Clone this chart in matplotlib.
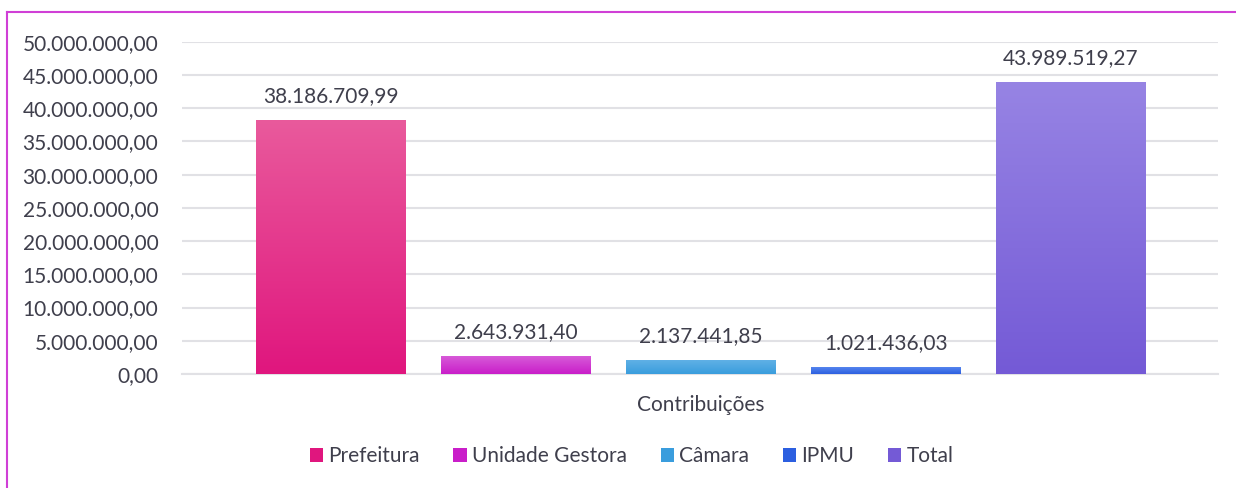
import numpy as np
import matplotlib
matplotlib.use("Agg")
import matplotlib.pyplot as plt
from matplotlib.colors import LinearSegmentedColormap
from matplotlib.patches import Patch
from matplotlib.lines import Line2D

plt.rcParams['font.family'] = ['Lato', 'DejaVu Sans']

series = ["Prefeitura", "Unidade Gestora", "Câmara", "IPMU", "Total"]
values = [38186709.99, 2643931.40, 2137441.85, 1021436.03, 43989519.27]
category = "Contribuições"
yticks = [0, 5e6, 10e6, 15e6, 20e6, 25e6, 30e6, 35e6, 40e6, 45e6, 50e6]

# gradient (top, bottom) colours per series
grad = [("#e95a9c", "#e0167e"),
        ("#d75ad8", "#c91ec9"),
        ("#62b2e6", "#3a9ddd"),
        ("#5585ee", "#2c5fe0"),
        ("#9784e4", "#745ad6")]

TEXT = "#3f3f4c"
GRID = "#e1e1e5"
FS = 15


def br(v):
    s = f"{v:,.2f}"
    return s.replace(",", "X").replace(".", ",").replace("X", ".")


fig = plt.figure(figsize=(12.36, 4.88), dpi=100)
ax = fig.add_axes([0.1472, 0.2336, 0.8382, 0.6809])

x = np.arange(len(series))
w = 0.81
bars = ax.bar(x, values, width=w, color=[g[1] for g in grad], zorder=2)

for b, (top, bot) in zip(bars, grad):
    cmap = LinearSegmentedColormap.from_list("g", [bot, top])
    x0, y0 = b.get_x(), b.get_y()
    x1, y1 = x0 + b.get_width(), y0 + b.get_height()
    img = ax.imshow(np.linspace(0, 1, 256).reshape(-1, 1), cmap=cmap,
                    extent=[x0, x1, y0, y1], origin="lower", aspect="auto",
                    zorder=3)
    img.set_clip_path(b)

for xi, v in zip(x, values):
    ax.annotate(br(v), (xi, v), xytext=(0, 10), textcoords="offset points",
                ha="center", va="bottom", fontsize=FS, color=TEXT)

ax.set_xlim(-0.805, 4.795)
ax.set_ylim(0, 50e6)
ax.set_yticks(yticks)
ax.set_yticklabels([br(t) for t in yticks], fontsize=FS, color=TEXT)
ax.set_xticks([])
ax.tick_params(axis="y", length=0, pad=17)
ax.yaxis.grid(True, color=GRID, linewidth=1.5, zorder=0)
ax.set_axisbelow(True)
for s in ["top", "right", "left"]:
    ax.spines[s].set_visible(False)
ax.spines["bottom"].set_color(GRID)
ax.spines["bottom"].set_linewidth(1.5)

fig.text(0.567, 0.17, category, ha="center", va="center", fontsize=FS,
         color=TEXT)

handles = [Patch(facecolor=g[1]) for g in grad]
fig.legend(handles, series, loc="center", bbox_to_anchor=(0.511, 0.065),
           ncol=5, frameon=False, fontsize=FS, labelcolor=TEXT,
           handlelength=0.65, handleheight=0.65, handletextpad=0.25,
           columnspacing=1.6)

# chart border (left and top edges visible)
border = "#d03fd6"
fig.add_artist(Line2D([7 / 1236, 7 / 1236], [0, 1 - 12 / 488],
                      transform=fig.transFigure, color=border, linewidth=1.5))
fig.add_artist(Line2D([7 / 1236, 1], [1 - 12 / 488, 1 - 12 / 488],
                      transform=fig.transFigure, color=border, linewidth=1.5))

fig.savefig("out.png", dpi=100)
